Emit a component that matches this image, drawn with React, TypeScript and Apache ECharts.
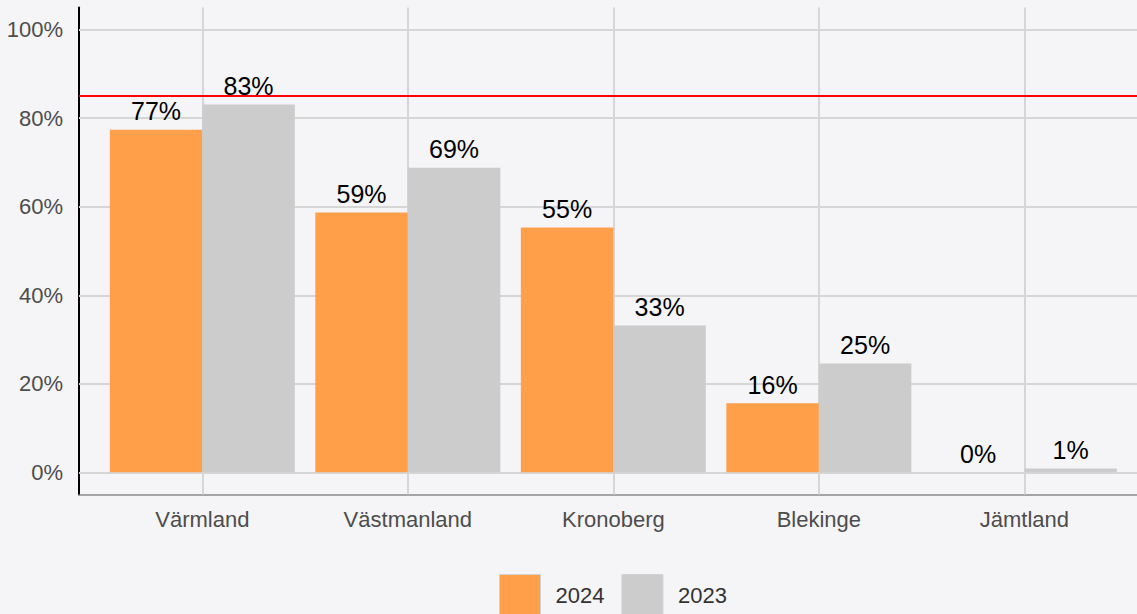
import React, { useEffect, useRef } from 'react';
import * as echarts from 'echarts';

const regions = ['Värmland', 'Västmanland', 'Kronoberg', 'Blekinge', 'Jämtland'];
const positions = [1, 2, 3, 4, 5];
const values2024 = [77.4, 58.7, 55.3, 15.6, 0];
const values2023 = [83.1, 68.8, 33.2, 24.6, 0.9];
const seriesNames = ['2024', '2023'];
const target = 85;
const yTicks = [0, 20, 40, 60, 80, 100];

const FONT = '"Liberation Sans", Arial, sans-serif';
const BG = '#f5f4f7';
const ORANGE = '#ff9f4a';
const GRAY = '#cccccc';
const GRID = '#d6d6d6';

export default function App() {
  const ref = useRef<HTMLDivElement>(null);
  useEffect(() => {
    if (!ref.current) return;
    const chart = echarts.init(ref.current, undefined, { renderer: 'svg' });
    const label = {
      show: true,
      position: 'top',
      distance: 6,
      fontSize: 25,
      color: '#000',
      fontFamily: FONT,
      formatter: (p: any) => Math.round(p.value[1]) + '%',
    };
    chart.setOption({
      animation: false,
      backgroundColor: BG,
      textStyle: { fontFamily: FONT },
      grid: { left: 79, top: 7.5, right: 0, height: 487, containLabel: false },
      legend: {
        data: seriesNames,
        left: 499,
        top: 574,
        padding: 0,
        icon: 'rect',
        itemWidth: 41,
        itemHeight: 41,
        itemGap: 17,
        itemStyle: { borderColor: '#d2d2d2', borderWidth: 1 },
        textStyle: { fontSize: 22, color: '#333', fontFamily: FONT, padding: [0, 0, 0, 10] },
        selectedMode: false,
      },
      xAxis: {
        type: 'value',
        min: 0.4,
        max: 5.548,
        splitLine: { show: false },
        axisTick: { show: false },
        axisLine: { show: true, onZero: false, lineStyle: { color: '#8a8a8a', width: 1.5 } },
        axisLabel: {
          customValues: positions,
          formatter: (v: number) => regions[Math.round(v) - 1] ?? '',
          fontSize: 22,
          color: '#4d4d4d',
          margin: 14,
          fontFamily: FONT,
        },
      },
      yAxis: {
        type: 'value',
        min: -5,
        max: 105,
        splitLine: { show: false },
        axisTick: { show: false },
        axisLine: { show: true, onZero: false, lineStyle: { color: '#000', width: 2 } },
        axisLabel: {
          customValues: yTicks,
          formatter: (v: number) => v + '%',
          fontSize: 22,
          color: '#4d4d4d',
          margin: 16,
          fontFamily: FONT,
        },
      },
      series: [
        {
          type: 'line',
          name: 'grid',
          data: [],
          silent: true,
          markLine: {
            z: 1,
            silent: true,
            symbol: 'none',
            animation: false,
            label: { show: false },
            emphasis: { disabled: true },
            lineStyle: { color: GRID, width: 2, type: 'solid' },
            data: [
              ...yTicks.map((t) => ({ yAxis: t })),
              ...positions.map((p) => ({ xAxis: p })),
            ],
          },
        },
        {
          type: 'bar',
          name: seriesNames[0],
          z: 2,
          barWidth: 92.5,
          barGap: '0%',
          itemStyle: { color: ORANGE },
          label,
          data: positions.map((p, i) => [p, values2024[i]]),
        },
        {
          type: 'bar',
          name: seriesNames[1],
          z: 2,
          barWidth: 92.5,
          barGap: '0%',
          itemStyle: { color: GRAY },
          label,
          data: positions.map((p, i) => [p, values2023[i]]),
          markLine: {
            z: 3,
            silent: true,
            symbol: 'none',
            animation: false,
            label: { show: false },
            emphasis: { disabled: true },
            lineStyle: { color: '#ff0000', width: 2, type: 'solid' },
            data: [{ yAxis: target }],
          },
        },
      ],
    });
    return () => chart.dispose();
  }, []);
  return (
    <div
      ref={ref}
      style={{ position: 'fixed', left: 0, top: 0, width: 1137, height: 614 }}
    />
  );
}
